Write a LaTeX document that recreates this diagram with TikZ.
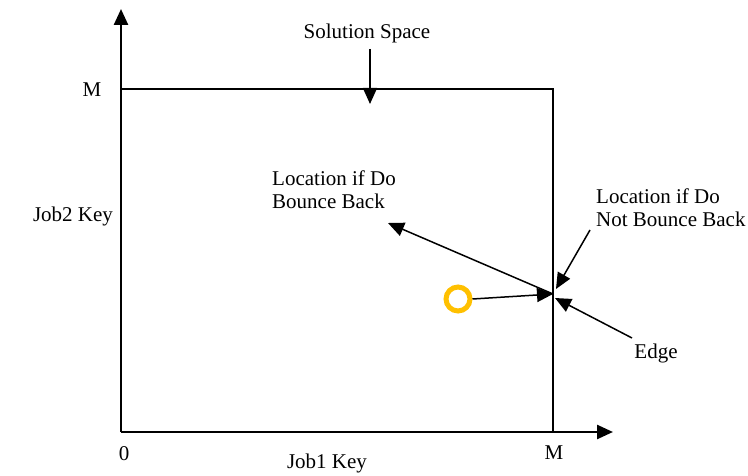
\documentclass[tikz,border=0pt]{standalone}
\usepackage{fontspec}
\setmainfont{Liberation Serif}
\usetikzlibrary{arrows.meta}
\definecolor{ringgold}{HTML}{FFC000}
\tikzset{
  lbl/.style={inner sep=0pt, font=\fontsize{21}{24}\selectfont},
  ptr/.style={line width=1.5pt, -{Triangle[length=16pt,width=14pt]}},
}
\begin{document}
\begin{tikzpicture}[x=1pt,y=-1pt]
  \useasboundingbox (0,0) rectangle (748,476);
  % axes and box
  \coordinate (o) at (121,432);
  \coordinate (xend) at (613,432);
  \coordinate (yend) at (121,9);
  \coordinate (tl) at (121,89);
  \coordinate (tr) at (553,89);
  \coordinate (br) at (553,432);
  \draw[line width=1.5pt] (tl) -- (tr) -- (br);
  \draw[ptr, line width=2.5pt] (o) -- (xend);
  \draw[ptr, line width=2.5pt] (o) -- (yend);
  % axis labels
  \node[lbl] (mleft) at (92,90) {M};
  \node[lbl] (zero) at (124,454) {0};
  \node[lbl] (mbot) at (554,453) {M};
  \node[lbl] (xlab) at (327,463) {Job1 Key};
  \node[lbl] (ylab) at (73,216) {Job2 Key};
  % solution space
  \node[lbl] (sol) at (367,33) {Solution Space};
  \coordinate (solfrom) at (370,49);
  \coordinate (solto) at (370,104);
  \draw[ptr] (solfrom) -- (solto);
  % particle and its moves
  \node[circle, draw=ringgold, line width=5pt, minimum size=24pt, inner sep=0pt] (dot) at (458,299) {};
  \coordinate (hit) at (553,294);
  \draw[ptr] (dot.east) -- (hit);
  \node[lbl, align=left, anchor=base west] (bounce) at (272,209) {Location if Do\\Bounce Back};
  \coordinate (bouncetip) at (388,223);
  \draw[ptr] (hit) -- (bouncetip);
  \node[lbl, align=left, anchor=base west] (nobounce) at (596,227) {Location if Do\\Not Bounce Back};
  \coordinate (nbfrom) at (590,230);
  \coordinate (nbto) at (556,289);
  \draw[ptr] (nbfrom) -- (nbto);
  \node[lbl] (edge) at (656,353) {Edge};
  \coordinate (edgefrom) at (632,338);
  \coordinate (edgeto) at (555,298);
  \draw[ptr] (edgefrom) -- (edgeto);
\end{tikzpicture}
\end{document}
